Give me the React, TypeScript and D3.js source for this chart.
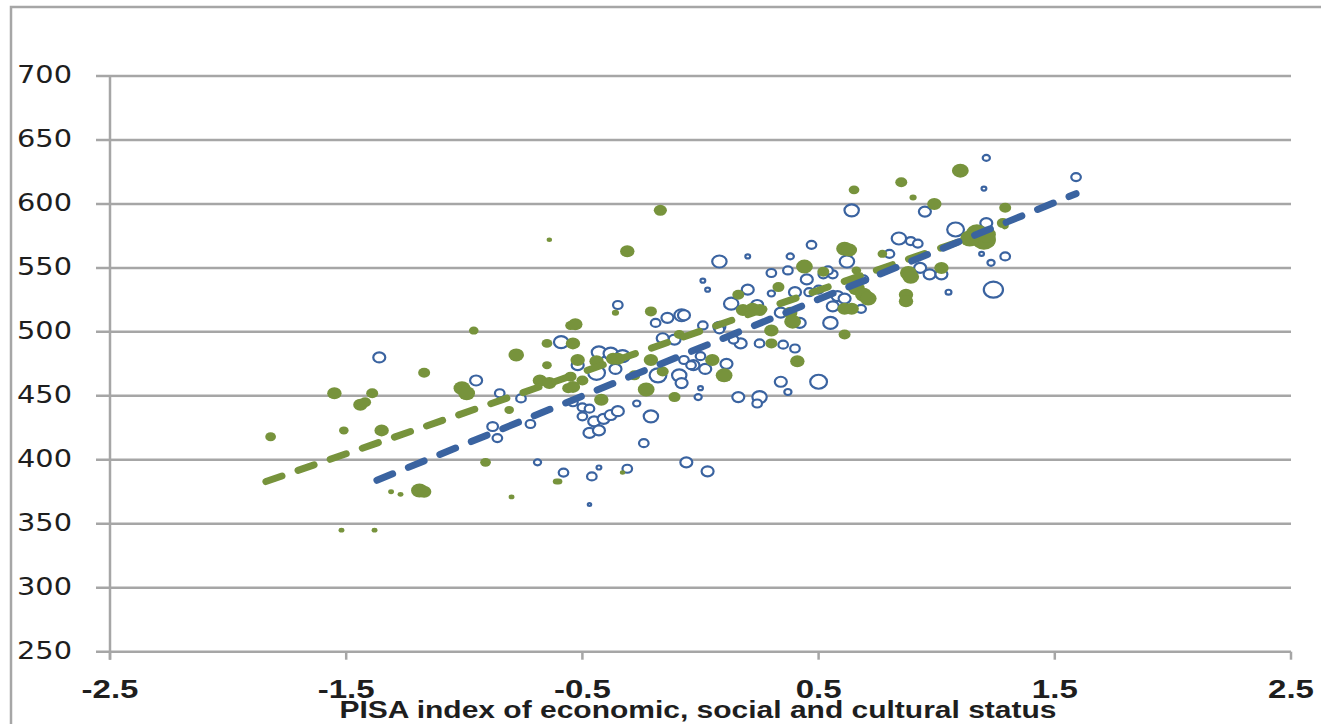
import React from "react";
import * as d3 from "d3";

// ---- data ----
// Filled (green) series: [x, y, weight]
const greenX = [-1.82,-1.55,-1.51,-1.44,-1.42,-1.39,-1.35,-1.31,-1.27,-1.19,-1.17,-1.52,-1.38,-1.17,-0.96,-0.78,-0.65,-0.65,-1.01,-0.99,-0.91,-0.80,-0.81,-0.60,-0.68,-0.64,-0.55,-0.56,-0.55,-0.64,-0.17,-0.31,-0.53,-0.54,-0.52,-0.54,-0.50,-0.42,-0.37,-0.35,-0.44,-0.36,-0.21,-0.23,-0.28,-0.16,-0.21,-0.11,0.05,0.10,0.16,0.30,0.30,0.41,0.33,0.18,0.22,0.25,0.38,-0.61,-0.33,0.61,0.63,0.77,0.44,0.52,0.66,0.89,0.66,0.69,0.71,0.87,0.87,0.61,0.39,0.61,-0.09,1.10,0.85,0.65,0.90,0.99,1.29,1.17,1.20,1.14,1.21,1.28,1.02,0.88,0.64];
const greenY = [418,452,423,443,445,452,423,375,373,376,375,345,345,468,501,482,491,474,456,452,398,371,439,383,462,460,505,456,465,572,595,563,506,491,478,457,462,447,479,479,477,515,516,455,466,469,478,449,478,466,529,501,491,477,535,517,518,517,515,383,390,565,564,561,551,547,548,543,534,529,526,529,524,518,508,498,498,626,617,611,605,600,597,577,572,573,576,585,550,546,518];
const greenW = [20,36,16,36,25,25,36,6,6,49,36,6,6,25,16,42,20,16,49,49,20,6,16,9,36,36,20,25,25,5,30,36,36,36,36,36,25,36,36,36,36,9,25,49,25,25,36,25,36,49,25,36,25,36,25,36,36,36,36,9,5,49,42,16,49,25,16,49,49,49,49,36,36,36,49,25,20,49,25,20,9,36,25,81,100,64,64,25,36,49,36];

// Open (blue) series: [x, y, weight]
const blueX = [-1.36,-0.95,-0.85,-0.76,-0.88,-0.86,-0.72,-0.69,-0.58,-0.59,-0.35,-0.19,-0.14,-0.08,0.20,0.13,0.08,0.01,-0.43,-0.38,-0.33,-0.44,-0.52,-0.36,-0.18,-0.11,-0.16,-0.09,-0.08,-0.03,0.02,0.11,0.17,0.16,0.25,0.24,0.34,0.37,0.35,0.40,0.00,-0.01,-0.27,-0.54,-0.50,-0.47,-0.50,-0.45,-0.41,-0.38,-0.35,-0.47,-0.43,-0.21,-0.24,-0.06,0.03,-0.46,-0.43,-0.31,-0.47,0.47,0.08,0.20,0.38,0.84,0.89,0.92,0.80,0.62,0.30,0.37,0.01,0.03,0.30,0.24,0.40,0.46,0.50,0.45,0.52,0.56,0.54,0.58,0.61,0.56,0.68,0.55,0.69,0.42,0.34,-0.07,0.08,0.14,0.25,0.00,-0.07,-0.04,0.50,1.21,1.59,1.20,0.64,0.95,1.08,1.21,1.29,1.23,1.19,0.93,0.97,1.02,1.05,1.24];
const blueY = [480,462,452,448,426,417,428,398,390,492,521,507,511,513,533,522,504,505,484,483,481,468,474,471,466,494,495,466,460,474,471,475,491,449,449,444,461,453,490,487,456,449,444,445,441,440,434,430,432,435,438,421,423,434,413,398,391,387,394,393,365,568,555,559,559,573,571,569,561,555,546,548,540,533,530,521,531,531,533,541,545,545,548,528,526,520,518,507,541,507,515,513,502,494,491,481,478,474,461,636,621,612,595,594,580,585,559,554,561,550,545,545,531,533];
const blueW = [25,25,16,16,20,16,16,9,16,36,16,16,25,36,25,36,25,16,36,36,36,49,25,25,49,25,25,36,25,25,25,25,25,25,36,16,25,9,16,16,4,9,9,16,16,16,16,25,25,25,25,25,25,36,16,25,25,16,4,16,2,16,36,4,9,36,16,16,16,36,16,16,4,4,9,25,25,16,16,25,16,16,16,25,25,25,16,36,16,25,25,25,16,16,16,16,16,16,49,9,16,4,36,25,49,25,16,9,4,25,25,25,6,64];

// Trend lines: endpoints [x, y]
const greenTrendX = [-1.84, 1.29];
const greenTrendY = [383, 583];
const blueTrendX = [-1.37, 1.59];
const blueTrendY = [384, 608];

const xTicks = [-2.5, -1.5, -0.5, 0.5, 1.5, 2.5];
const yTicks = [250, 300, 350, 400, 450, 500, 550, 600, 650, 700];
const xTitle = "PISA index of economic, social and cultural status";

// ---- layout ----
const W = 1321;
const H = 724;
const GREEN = "#77933c";
const BLUE = "#3a63a0";
const GRID = "#a6a6a6";
const TEXT = "#1e1e1e";

export default function App() {
  const x = d3.scaleLinear().domain([-2.5, 2.5]).range([110, 1291]);
  const y = d3.scaleLinear().domain([250, 700]).range([651.7, 76]);
  const r = d3.scaleSqrt().domain([0, 100]).range([0, 10]);
  const line = d3
    .line<[number, number]>()
    .x((d) => x(d[0]))
    .y((d) => y(d[1]));

  const green = greenX.map((v, i) => ({ x: v, y: greenY[i], w: greenW[i] }));
  const blue = blueX.map((v, i) => ({ x: v, y: blueY[i], w: blueW[i] }));
  const gTrend = greenTrendX.map((v, i) => [v, greenTrendY[i]] as [number, number]);
  const bTrend = blueTrendX.map((v, i) => [v, blueTrendY[i]] as [number, number]);

  const x0 = x.range()[0];
  const x1 = x.range()[1];
  const yBottom = y(250);

  return (
    <svg
      width={W}
      height={H}
      style={{ position: "absolute", left: 0, top: 0, display: "block", background: "#fff" }}
    >
      <rect x={0} y={0} width={W} height={H} fill="#fff" />
      {/* outer chart frame */}
      <path d={`M${W + 5},7 L11,7 L11,${H + 5}`} fill="none" stroke={GRID} strokeWidth={2.5} />

      {/* gridlines + y ticks */}
      {yTicks.map((t) => (
        <line key={"g" + t} x1={96} x2={x1} y1={y(t)} y2={y(t)} stroke={GRID} strokeWidth={2.5} />
      ))}
      {/* y axis */}
      <line x1={x0} x2={x0} y1={y(700)} y2={yBottom + 8} stroke={GRID} strokeWidth={2.5} />
      {/* x ticks */}
      {xTicks.map((t) => (
        <line key={"xt" + t} x1={x(t)} x2={x(t)} y1={yBottom} y2={yBottom + 8} stroke={GRID} strokeWidth={2.5} />
      ))}

      {/* y labels */}
      {yTicks.map((t) => (
        <g key={"yl" + t} transform={`translate(72,${y(t) + 7}) scale(1.2,1)`}>
          <text textAnchor="end" fontFamily="DejaVu Sans, Verdana, sans-serif" fontSize={24} fill={TEXT}>
            {t}
          </text>
        </g>
      ))}
      {/* x labels */}
      {xTicks.map((t) => (
        <g key={"xl" + t} transform={`translate(${x(t)},698) scale(1.27,1)`}>
          <text textAnchor="middle" fontFamily="Liberation Sans, Arial, sans-serif" fontWeight="bold" fontSize={26} fill={TEXT}>
            {t}
          </text>
        </g>
      ))}
      <text
        x={698}
        y={718}
        textAnchor="middle"
        fontFamily="Liberation Sans, Arial, sans-serif"
        fontWeight="bold"
        fontSize={23}
        fill={TEXT}
        textLength={717}
        lengthAdjust="spacingAndGlyphs"
      >
        {xTitle}
      </text>

      {/* blue open points */}
      {blue.map((d, i) => (
        <ellipse
          key={"b" + i}
          cx={x(d.x)}
          cy={y(d.y)}
          rx={r(d.w) * 1.2}
          ry={r(d.w)}
          fill="#fff"
          stroke={BLUE}
          strokeWidth={2.2}
        />
      ))}
      {/* green filled points */}
      {green.map((d, i) => (
        <ellipse key={"gp" + i} cx={x(d.x)} cy={y(d.y)} rx={r(d.w) * 1.2} ry={r(d.w)} fill={GREEN} />
      ))}

      {/* trend lines */}
      <path d={line(gTrend) || ""} fill="none" stroke={GREEN} strokeWidth={7} strokeDasharray="17 17" strokeLinecap="round" />
      <path d={line(bTrend) || ""} fill="none" stroke={BLUE} strokeWidth={7} strokeDasharray="17 17" strokeLinecap="round" />
    </svg>
  );
}
